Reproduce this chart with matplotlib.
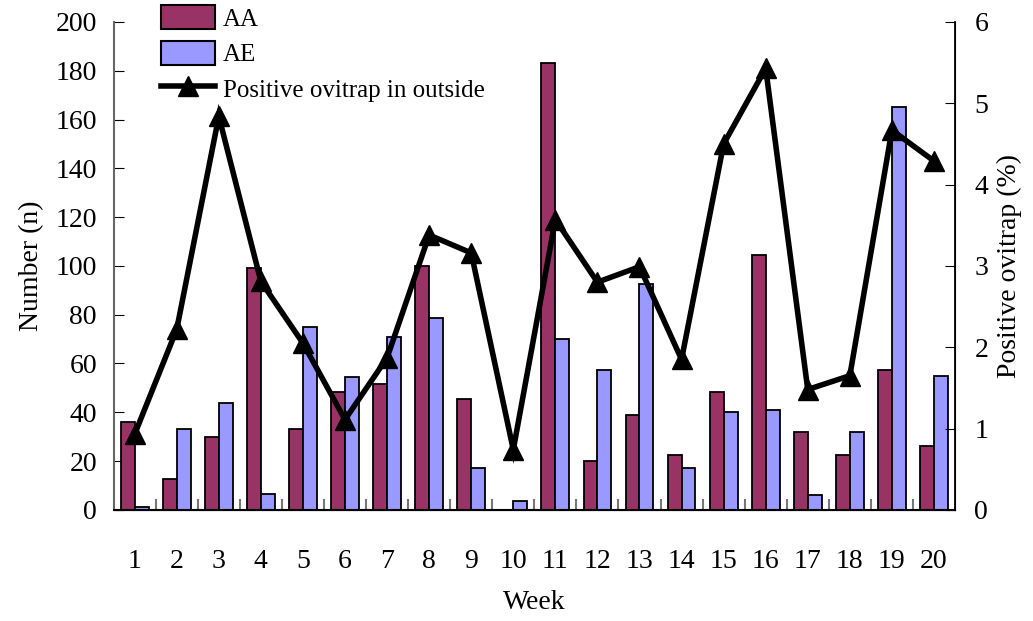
import matplotlib
matplotlib.use("Agg")
import matplotlib.pyplot as plt
import numpy as np
from matplotlib.lines import Line2D
from matplotlib.patches import Patch

plt.rcParams['font.family'] = ['Liberation Serif', 'DejaVu Serif']

weeks = [str(i) for i in range(1, 21)]
aa_counts = [36, 12.5, 30, 99, 33, 48.5, 51.5, 100, 45.5, 0,
             183, 20, 39, 22.5, 48.5, 104.5, 32, 22.5, 57.5, 26]
ae_counts = [1, 33, 44, 6.5, 75, 54.5, 71, 78.5, 17, 3.5,
             70, 57.5, 92.5, 17, 40, 41, 6, 32, 165, 55]
positive_ovitrap = [0.93, 2.22, 4.84, 2.81, 2.05, 1.11, 1.87, 3.38, 3.16, 0.74,
                    3.57, 2.80, 2.99, 1.85, 4.50, 5.43, 1.48, 1.65, 4.67, 4.29]

AA_COLOR = '#993366'
AE_COLOR = '#9999FF'
FS = 20

fig = plt.figure(figsize=(10.33, 6.21), dpi=100)
ax = fig.add_axes([0.110, 0.179, 0.8145, 0.7856])
ax2 = ax.twinx()

x = np.arange(len(weeks))
w = 0.33
ax.bar(x - w / 2, aa_counts, w, color=AA_COLOR, edgecolor='black', linewidth=1.3, zorder=2)
ax.bar(x + w / 2, ae_counts, w, color=AE_COLOR, edgecolor='black', linewidth=1.3, zorder=2)

ax2.plot(x, positive_ovitrap, color='black', linewidth=4, marker='^', markersize=15,
         solid_joinstyle='miter', zorder=3)

ax.set_xlim(-0.5, len(weeks) - 0.5)
ax.set_ylim(0, 200)
ax2.set_ylim(0, 6)
ax.set_yticks(np.arange(0, 201, 20))
ax2.set_yticks(np.arange(0, 7, 1))

# category labels centred, tick marks on the category boundaries
ax.set_xticks(x)
ax.set_xticklabels(weeks)
ax.tick_params(axis='x', which='major', length=0, pad=28, labelsize=FS)
ax.set_xticks(np.arange(0.5, len(weeks) - 0.5, 1), minor=True)
ax.tick_params(axis='x', which='minor', direction='in', length=8, color='#777777', width=1.5)
ax.tick_params(axis='y', direction='in', length=7, color='black', labelsize=FS, pad=12)
ax2.tick_params(axis='y', direction='in', length=7, color='black', labelsize=FS, pad=14)

for a in (ax, ax2):
    a.spines['top'].set_visible(False)
ax.spines['left'].set_color('#666666')
ax.spines['left'].set_linewidth(1.5)
ax2.spines['left'].set_visible(False)
ax2.spines['right'].set_linewidth(1.3)
ax.spines['bottom'].set_linewidth(1.5)

ax.set_xlabel('Week', fontsize=FS, labelpad=12)
ax.set_ylabel('Number (n)', fontsize=FS, labelpad=8)
ax2.set_ylabel('Positive ovitrap (%)', fontsize=FS, labelpad=6)

handles = [Patch(facecolor=AA_COLOR, edgecolor='black', linewidth=1.5),
           Patch(facecolor=AE_COLOR, edgecolor='black', linewidth=1.5),
           Line2D([0], [0], color='black', linewidth=4, marker='^', markersize=15)]
leg = ax2.legend(handles, ['AA', 'AE', 'Positive ovitrap in outside'],
                 loc='upper left', bbox_to_anchor=(0.045, 1.055), frameon=False,
                 fontsize=18, handlelength=2.15, handleheight=1.1, handletextpad=0.3,
                 labelspacing=0.4, borderaxespad=0)

fig.savefig('out.png', dpi=100)
